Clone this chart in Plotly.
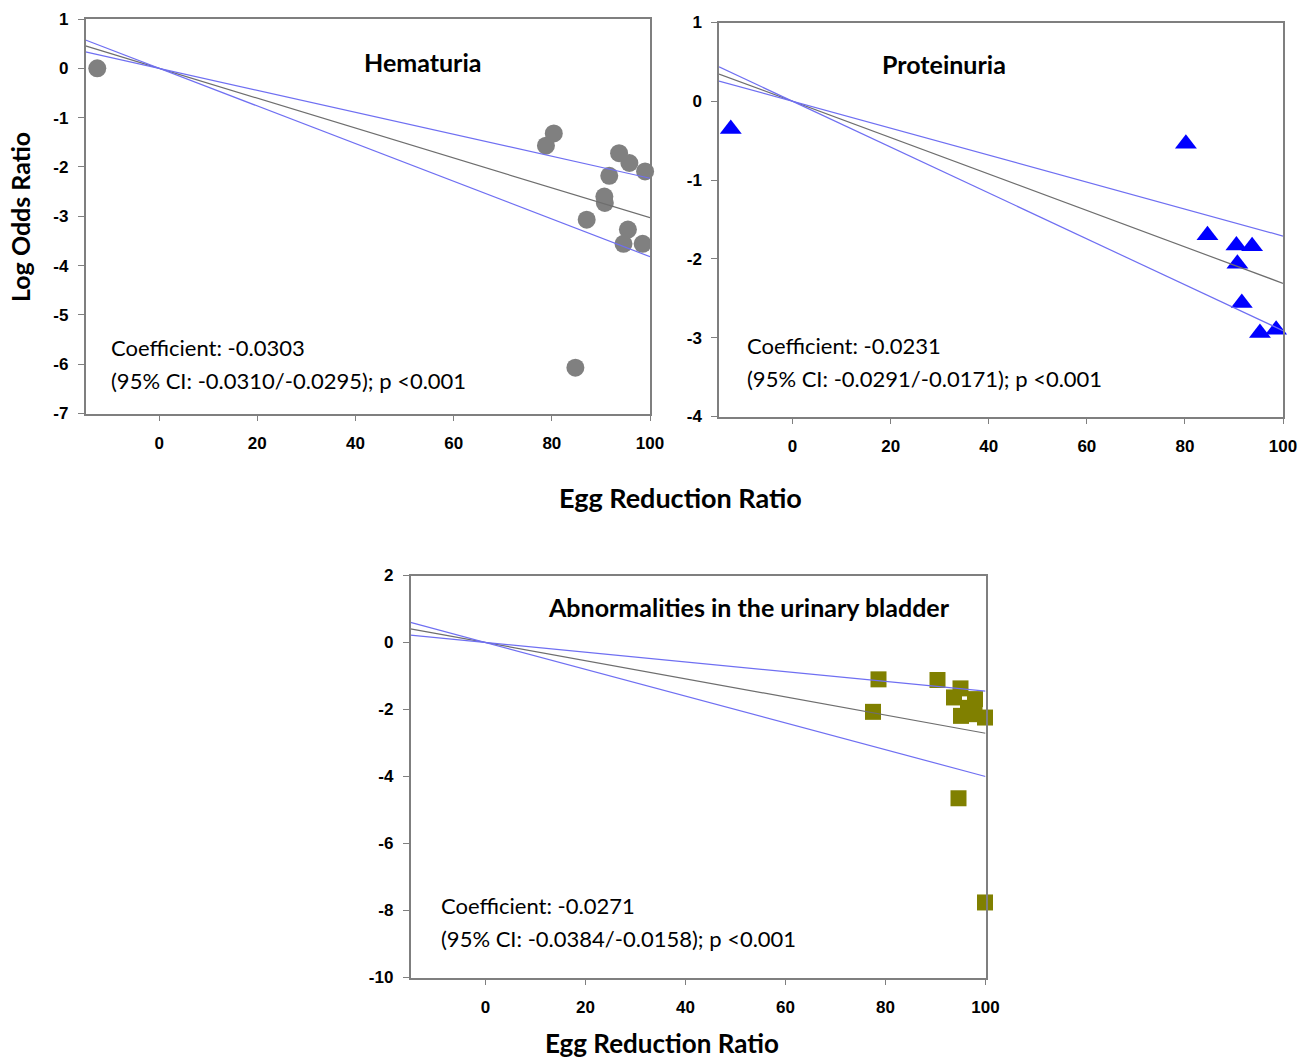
import plotly.graph_objects as go

# ---------------- data ----------------
hem_x = [-12.6, 80.4, 78.8, 93.7, 95.8, 99.0, 91.7, 90.7, 90.8, 87.1, 95.5, 94.6, 98.5, 84.8]
hem_y = [0.0, -1.32, -1.57, -1.72, -1.92, -2.09, -2.18, -2.60, -2.73, -3.07, -3.27, -3.56, -3.56, -6.07]

pro_x = [-12.6, 80.2, 84.6, 90.5, 93.7, 90.7, 91.6, 95.3, 98.6]
pro_y = [-0.35, -0.54, -1.70, -1.83, -1.84, -2.06, -2.56, -2.94, -2.90]

bla_x = [78.6, 77.5, 90.4, 95.0, 93.7, 97.9, 96.5, 95.1, 97.8, 99.9, 94.6, 99.9]
bla_y = [-1.10, -2.07, -1.12, -1.37, -1.64, -1.69, -1.95, -2.19, -2.14, -2.24, -4.65, -7.76]

line_x = [-15, 100]
# slopes through origin: fit, upper band, lower band
hem_slopes = [-0.0303, -0.0223, -0.0382]
pro_slopes = [-0.0231, -0.0171, -0.0291]
bla_slopes = [-0.0271, -0.0145, -0.0400]

x_ticks = [0, 20, 40, 60, 80, 100]
y_ticks_hem = [1, 0, -1, -2, -3, -4, -5, -6, -7]
y_ticks_pro = [1, 0, -1, -2, -3, -4]
y_ticks_bla = [2, 0, -2, -4, -6, -8, -10]

titles = ["Hematuria", "Proteinuria", "Abnormalities in the urinary bladder"]
coef_text = ["Coefficient: -0.0303", "Coefficient: -0.0231", "Coefficient: -0.0271"]
ci_text = ["(95% CI: -0.0310/-0.0295); p <0.001",
           "(95% CI: -0.0291/-0.0171); p <0.001",
           "(95% CI: -0.0384/-0.0158); p <0.001"]

# ---------------- figure ----------------
fig = go.Figure()

GRAY_LINE = "#6e6e6e"
BLUE_LINE = "#6f6ff2"

panels = [
    dict(x=hem_x, y=hem_y, slopes=hem_slopes, xa="x", ya="y",
         marker=dict(symbol="circle", size=18, color="#808080")),
    dict(x=pro_x, y=pro_y, slopes=pro_slopes, xa="x2", ya="y2",
         marker=dict(symbol="triangle-up", size=19, color="#0000ff")),
    dict(x=bla_x, y=bla_y, slopes=bla_slopes, xa="x3", ya="y3",
         marker=dict(symbol="square", size=16, color="#808000")),
]

for p in panels:
    fig.add_trace(go.Scatter(x=p["x"], y=p["y"], mode="markers", marker=p["marker"],
                             cliponaxis=False,
                             xaxis=p["xa"], yaxis=p["ya"], showlegend=False))
    for i, s in enumerate(p["slopes"]):
        fig.add_trace(go.Scatter(x=line_x, y=[s * v for v in line_x], mode="lines",
                                 line=dict(color=GRAY_LINE if i == 0 else BLUE_LINE, width=1.2),
                                 xaxis=p["xa"], yaxis=p["ya"], showlegend=False))

tickfont = dict(family="Liberation Sans, Arial", size=17, color="#000000", weight="bold")
axis_common = dict(showline=True, linecolor="#7f7f7f", linewidth=1.5, mirror=True,
                   ticks="outside", ticklen=6, tickcolor="#7f7f7f", tickwidth=1.2,
                   showgrid=False, zeroline=False, tickfont=tickfont, automargin=False)

W, H = 1300, 1061
def dom_x(a, b):
    return [a / W, b / W]
def dom_y(top, bottom):
    return [1 - bottom / H, 1 - top / H]

def lab(vals):
    return [str(v) for v in vals]

fig.update_layout(
    template="none",
    width=W, height=H, margin=dict(l=0, r=0, t=0, b=0, pad=0),
    paper_bgcolor="white", plot_bgcolor="white",
    xaxis=dict(domain=dom_x(85.5, 650), range=[-15, 100], tickvals=x_ticks, ticktext=lab(x_ticks),
               anchor="y", ticklabelstandoff=7, **axis_common),
    yaxis=dict(domain=dom_y(19, 413.5), range=[-7, 1], tickvals=y_ticks_hem, ticktext=lab(y_ticks_hem),
               anchor="x", ticklabelstandoff=6, **axis_common),
    xaxis2=dict(domain=dom_x(719, 1283), range=[-15, 100], tickvals=x_ticks, ticktext=lab(x_ticks),
                anchor="y2", ticklabelstandoff=7, **axis_common),
    yaxis2=dict(domain=dom_y(22.5, 416.5), range=[-4, 1], tickvals=y_ticks_pro, ticktext=lab(y_ticks_pro),
                anchor="x2", ticklabelstandoff=6, **axis_common),
    xaxis3=dict(domain=dom_x(410.5, 985.5), range=[-15, 100], tickvals=x_ticks, ticktext=lab(x_ticks),
                anchor="y3", ticklabelstandoff=7, **axis_common),
    yaxis3=dict(domain=dom_y(575.5, 977.5), range=[-10, 2], tickvals=y_ticks_bla, ticktext=lab(y_ticks_bla),
                anchor="x3", ticklabelstandoff=6, **axis_common),
)

TXT = "Lato, Open Sans, sans-serif"
annos = []

def px_anno(text, px, py, size, bold=False, xanchor="center", angle=0):
    f = dict(family=TXT, size=size, color="black")
    if bold:
        f["weight"] = "bold"
    return dict(text=text, xref="paper", yref="paper", x=px / W, y=1 - py / H,
                showarrow=False, xanchor=xanchor, yanchor="middle", textangle=angle, font=f)

title_px = [(422, 61.5, 25), (944, 63.5, 25), (749, 607.5, 25)]
coef_px = [(109, 347.5, 380.5), (745, 345.5, 378.5), (439, 905.5, 938.5)]
for k in range(3):
    tx, ty, ts = title_px[k]
    annos.append(px_anno(titles[k], tx, ty, ts, bold=True))
    cx, cy1, cy2 = coef_px[k]
    annos.append(px_anno(coef_text[k], cx, cy1, 22, xanchor="left"))
    annos.append(px_anno(ci_text[k], cx, cy2, 22, xanchor="left"))

annos.append(px_anno("Log Odds Ratio", 20, 217, 25, bold=True, angle=-90))
annos.append(px_anno("Egg Reduction Ratio", 680, 497, 27, bold=True))
annos.append(px_anno("Egg Reduction Ratio", 662, 1043, 26, bold=True))

fig.update_layout(annotations=annos)
fig.write_html("out.html")
